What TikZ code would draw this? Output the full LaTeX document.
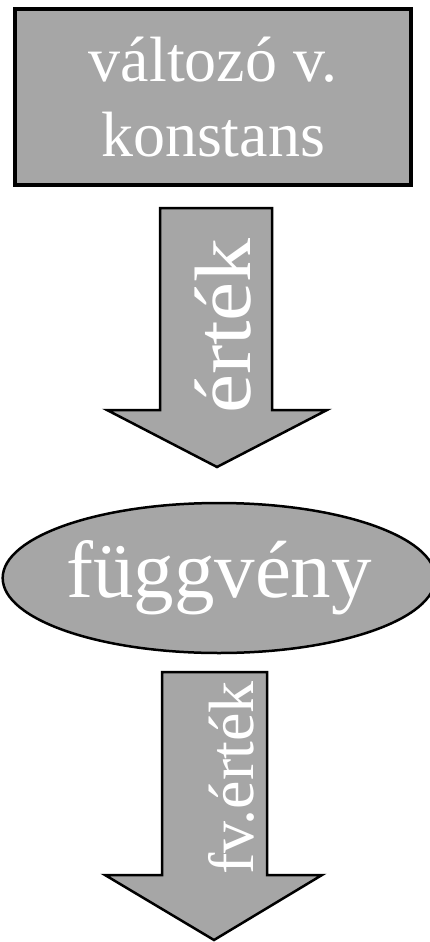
\documentclass[tikz,border=0pt]{standalone}
\usepackage{fontspec}
\setmainfont{Liberation Serif}
\usetikzlibrary{positioning, shapes.geometric, calc}

\definecolor{boxgray}{HTML}{A6A6A6}

\begin{document}
\begin{tikzpicture}[
  x=1pt, y=1pt,
  box/.style={rectangle, draw=black, fill=boxgray, line width=4pt,
              minimum width=396pt, minimum height=176pt,
              text=white, align=center,
              font=\fontsize{64}{75}\selectfont},
  func/.style={ellipse, draw=black, fill=boxgray, line width=2.5pt,
               minimum width=416pt, minimum height=150pt, inner sep=0pt,
               text=white, font=\fontsize{81}{90}\selectfont},
  blockarrow/.style={draw=black, fill=boxgray, line width=2.5pt, line join=miter},
  arrowlabel/.style={rotate=90, anchor=base, text=white, inner sep=0pt},
]
\useasboundingbox (0,0) rectangle (430,-942);

\node[box] (var) at (213,-97) {változó v.\\konstans};
\node[func] (fv) at (219,-578) {függvény};

% value arrow: box -> function
\coordinate (a1top) at (216,-208);
\coordinate (a1tip) at (217,-467);
\draw[blockarrow] ($(a1top)+(-56,0)$) -- ($(a1top)+(56,0)$) -- ($(a1top)+(56,-202)$)
  -- ($(a1top)+(111,-202)$) -- (a1tip) -- ($(a1top)+(-109,-202)$)
  -- ($(a1top)+(-56,-202)$) -- cycle;
\node[arrowlabel, font=\fontsize{80}{80}\selectfont] (val) at (250,-326) {\scalebox{1.1}[1]{érték}};

% function value arrow
\coordinate (a2top) at (214.5,-672);
\coordinate (a2tip) at (214,-940);
\draw[blockarrow] ($(a2top)+(-52.5,0)$) -- ($(a2top)+(52.5,0)$) -- ($(a2top)+(52.5,-203)$)
  -- ($(a2top)+(107.5,-203)$) -- (a2tip) -- ($(a2top)+(-109.5,-203)$)
  -- ($(a2top)+(-52.5,-203)$) -- cycle;
\node[arrowlabel, font=\fontsize{64}{64}\selectfont] (fvval) at (253,-778) {fv.érték};
\end{tikzpicture}
\end{document}
